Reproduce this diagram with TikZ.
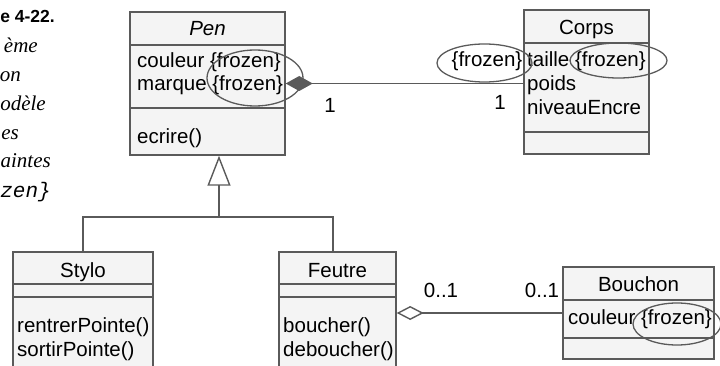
\documentclass[tikz,border=0pt]{standalone}
\usepackage{fontspec}
\setmainfont{Liberation Sans}
\newfontfamily\capserif{Liberation Serif}
\newfontfamily\capmono{Liberation Mono}
\usetikzlibrary{arrows.meta,shapes.geometric}
\definecolor{umlline}{HTML}{5A5A5A}
\definecolor{umlfill}{HTML}{F4F4F4}
\begin{document}
\begin{tikzpicture}[x=1pt,y=-1pt,
  umlbox/.style={draw=umlline, fill=umlfill, line width=1.4pt, inner sep=0pt},
  divider/.style={draw=umlline, line width=1.4pt},
  conn/.style={draw=umlline, line width=1.4pt},
  txt/.style={font=\fontsize{20.5}{24}\selectfont, inner sep=0pt, anchor=base west},
  ctxt/.style={font=\fontsize{20.5}{24}\selectfont, inner sep=0pt, anchor=base},
  ring/.style={draw=umlline, line width=1.3pt, ellipse, inner sep=0pt},
  capital/.style={font=\fontsize{17.5}{20}\selectfont\bfseries, inner sep=0pt, anchor=base east},
  capit/.style={font=\fontsize{21}{24}\selectfont\capserif\itshape, inner sep=0pt, anchor=base east},
  capmo/.style={font=\fontsize{21}{24}\selectfont\capmono\itshape, inner sep=0pt, anchor=base east}
]
\useasboundingbox (0,0) rectangle (720,366);
\clip (0,0) rectangle (720,366);

% caption fragments (cut by the left edge)
\node[capital] (cap0) at (55,23) {e 4-22.};
\node[capit] (cap1) at (38,53) {ème};
\node[capit] (cap2) at (21,82) {on};
\node[capit] (cap3) at (46,111) {odèle};
\node[capit] (cap4) at (19,140) {es};
\node[capit] (cap5) at (51,168) {aintes};
\node[capmo] (cap6) at (51,197) {zen\}};

% class boxes
\node[umlbox, minimum width=155pt, minimum height=143pt] (pen) at (207.5,83.5) {};
\draw[divider] (130,45) -- (285,45);
\draw[divider] (130,108) -- (285,108);
\node[ctxt] (penname) at (207.5,36) {\itshape Pen};
\node[txt] (pena1) at (137,68) {couleur \{frozen\}};
\node[txt] (pena2) at (137,91) {marque \{frozen\}};
\node[txt] (penm1) at (137,144) {ecrire()};

\node[umlbox, minimum width=125pt, minimum height=144pt] (corps) at (586.5,82) {};
\draw[divider] (524,43) -- (649,43);
\draw[divider] (524,132) -- (649,132);
\node[ctxt] (corpsname) at (586.5,35) {Corps};
\node[txt] (corpsa1) at (527,67) {taille \{frozen\}};
\node[txt] (corpsa2) at (527,91) {poids};
\node[txt] (corpsa3) at (527,115) {niveauEncre};

\node[umlbox, minimum width=140pt, minimum height=130pt] (stylo) at (83,317) {};
\draw[divider] (13,284) -- (153,284);
\draw[divider] (13,297) -- (153,297);
\node[ctxt] (styloname) at (83,277) {Stylo};
\node[txt] (stylom1) at (17,332) {rentrerPointe()};
\node[txt] (stylom2) at (17,356) {sortirPointe()};

\node[umlbox, minimum width=117pt, minimum height=130pt] (feutre) at (337.5,317) {};
\draw[divider] (279,284) -- (396,284);
\draw[divider] (279,297) -- (396,297);
\node[ctxt] (feutrename) at (337.5,277) {Feutre};
\node[txt] (feutrem1) at (283,332) {boucher()};
\node[txt] (feutrem2) at (283,356) {deboucher()};

\node[umlbox, minimum width=151pt, minimum height=92pt] (bouchon) at (638.5,313) {};
\draw[divider] (563,300) -- (714,300);
\draw[divider] (563,338) -- (714,338);
\node[ctxt] (bouchonname) at (638.5,291) {Bouchon};
\node[txt] (bouchona1) at (568,324) {couleur \{frozen\}};

% composition Pen -- Corps
\draw[conn, {Diamond[length=27pt,width=15pt,fill=umlline]}-] (pen.east) -- (pen.east -| corps.west);
\node[ctxt] (m1) at (330,113) {1};
\node[ctxt] (m2) at (500,110) {1};

% generalisation
\coordinate (junc) at (219,217);
\coordinate (fjunc) at (333,217);
\draw[conn, -{Triangle[open,fill=white,length=30pt,width=23pt]}] (junc) -- (junc |- pen.south);
\draw[conn] (stylo.north) |- (junc) -- (fjunc) -- (fjunc |- feutre.north);

% aggregation Feutre -- Bouchon
\draw[conn, {Diamond[open,fill=white,length=27pt,width=14pt]}-] (feutre.east |- bouchon.west) -- (bouchon.west);
\node[ctxt] (m3) at (441,297) {0..1};
\node[ctxt] (m4) at (542,297) {0..1};

% frozen rings
\node[ring, minimum width=96pt, minimum height=56pt] (ring1) at (255,78) {};
\node[ring, minimum width=95pt, minimum height=38pt] (ring2) at (484.5,63) {};
\node[txt, anchor=base] (ring2txt) at (487,67) {\{frozen\}};
\node[ring, minimum width=97pt, minimum height=35pt] (ring3) at (618.5,60.5) {};
\node[ring, minimum width=88pt, minimum height=42pt] (ring4) at (677,324) {};
\end{tikzpicture}
\end{document}
